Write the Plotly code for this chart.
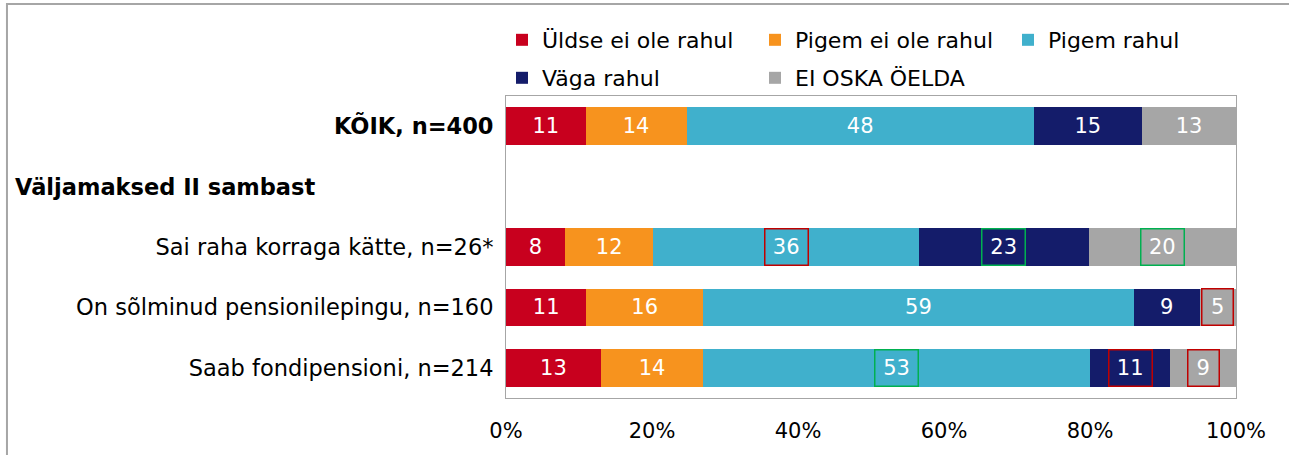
import plotly.graph_objects as go

# Survey groups (top to bottom); the second row is a section header without bars
categories = [
    "KÕIK, n=400",
    "Väljamaksed II sambast",
    "Sai raha korraga kätte, n=26*",
    "On sõlminud pensionilepingu, n=160",
    "Saab fondipensioni, n=214",
]
category_labels = [
    "<b>KÕIK, n=400</b>",
    "",
    "Sai raha korraga kätte, n=26*",
    "On sõlminud pensionilepingu, n=160",
    "Saab fondipensioni, n=214",
]
section_header = "<b>Väljamaksed II sambast</b>"

series_names = ["Üldse ei ole rahul", "Pigem ei ole rahul", "Pigem rahul", "Väga rahul", "EI OSKA ÖELDA"]
uldse_ei_ole = [11, None, 8, 11, 13]
pigem_ei_ole = [14, None, 12, 16, 14]
pigem_rahul = [48, None, 36, 59, 53]
vaga_rahul = [15, None, 23, 9, 11]
ei_oska = [13, None, 20, 5, 9]
series_values = [uldse_ei_ole, pigem_ei_ole, pigem_rahul, vaga_rahul, ei_oska]
series_colors = ["#C8001E", "#F7931E", "#40B0CC", "#141C6A", "#A6A6A6"]
# legend rows: first three answers on the top row, the rest below
series_legend = ["legend", "legend", "legend", "legend2", "legend2"]

tick_values = [0, 20, 40, 60, 80, 100]
tick_labels = ["0%", "20%", "40%", "60%", "80%", "100%"]

# Significant differences vs. total: (group, answer, frame colour)
highlight_groups = [2, 2, 2, 3, 4, 4, 4]
highlight_series = [2, 3, 4, 4, 2, 3, 4]
highlight_colors = ["#C00000", "#00B050", "#00B050", "#C00000", "#00B050", "#C00000", "#C00000"]

FONT = "DejaVu Sans"
LABEL_SIZE = 22.5
LEGEND_SIZE = 22
VALUE_SIZE = 21
TICK_SIZE = 21

fig = go.Figure()
for name, vals, col, leg in zip(series_names, series_values, series_colors, series_legend):
    fig.add_trace(go.Bar(
        y=categories,
        x=vals,
        name=name,
        orientation="h",
        legend=leg,
        marker=dict(color=col, line=dict(width=0)),
        text=["" if v is None else str(v) for v in vals],
        texttemplate="%{text}",
        textposition="inside",
        insidetextanchor="middle",
        textangle=0,
        constraintext="none",
        textfont=dict(family=FONT, size=VALUE_SIZE, color="white"),
        hoverinfo="skip",
    ))

# Frames around the highlighted value labels, centred on their segments
annotations = []
for g, s, c in zip(highlight_groups, highlight_series, highlight_colors):
    row = [series_values[k][g] for k in range(len(series_values))]
    total = sum(row)
    start = sum(row[:s])
    centre = (start + row[s] / 2) / total * 100
    label = str(row[s])
    annotations.append(dict(
        x=centre, y=categories[g], xref="x", yref="y",
        text=label, showarrow=False,
        font=dict(family=FONT, size=VALUE_SIZE, color="rgba(0,0,0,0)"),
        width=40 if len(label) > 1 else 28, height=33,
        bordercolor=c, borderwidth=1.5, borderpad=1,
    ))

annotations.append(dict(
    x=-0.6755, y=categories[1], xref="paper", yref="y",
    xanchor="left", yanchor="middle", text=section_header, showarrow=False,
    font=dict(family=FONT, size=LABEL_SIZE, color="black"),
))

legend_style = dict(
    orientation="h",
    x=-0.0055, xanchor="left", yanchor="middle",
    entrywidth=208, entrywidthmode="pixels",
    font=dict(family=FONT, size=LEGEND_SIZE, color="black"),
    bgcolor="rgba(0,0,0,0)",
    traceorder="normal",
)

fig.update_layout(
    barmode="stack",
    barnorm="percent",
    bargap=0.38,
    width=1289,
    height=455,
    autosize=False,
    margin=dict(l=506, r=53, t=96, b=57, autoexpand=False),
    paper_bgcolor="white",
    plot_bgcolor="white",
    font=dict(family=FONT, size=20, color="black"),
    showlegend=True,
    legend=dict(legend_style, y=1.1854),
    legend2=dict(legend_style, y=1.0596),
    annotations=annotations,
    shapes=[dict(
        type="rect", xref="paper", yref="paper",
        x0=-0.6836, x1=1.09, y0=-0.25, y1=1.3046,
        line=dict(color="#A6A6A6", width=2), fillcolor="rgba(0,0,0,0)", layer="below",
    )],
)

fig.update_xaxes(
    range=[0, 100],
    tickvals=tick_values,
    ticktext=tick_labels,
    showgrid=False,
    zeroline=False,
    showline=True, mirror=True, linecolor="#A6A6A6", linewidth=1,
    ticks="",
    ticklabelstandoff=14,
    tickfont=dict(family=FONT, size=TICK_SIZE, color="black"),
    fixedrange=True,
)
fig.update_yaxes(
    type="category",
    categoryorder="array",
    categoryarray=categories,
    tickvals=categories,
    ticktext=category_labels,
    range=[len(categories) - 0.5, -0.5],
    showgrid=False,
    zeroline=False,
    showline=True, mirror=True, linecolor="#A6A6A6", linewidth=1,
    ticks="",
    ticklabelstandoff=7,
    tickfont=dict(family=FONT, size=LABEL_SIZE, color="black"),
    fixedrange=True,
)

fig.write_html("out.html")
